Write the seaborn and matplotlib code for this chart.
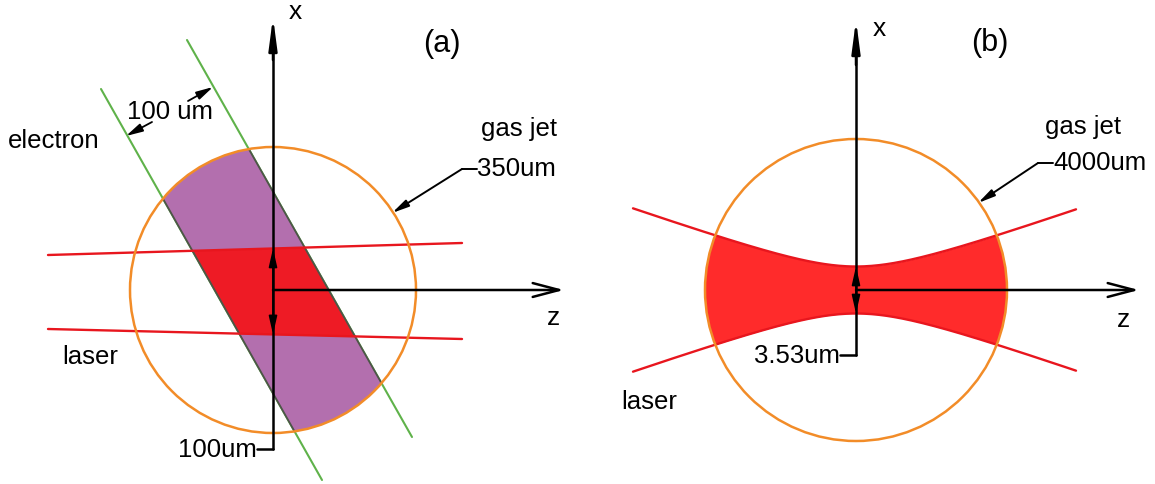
import numpy as np
import matplotlib
matplotlib.use("Agg")
import matplotlib.pyplot as plt
from matplotlib.patches import Circle, Polygon
import seaborn as sns

# ---------------- panel (a): electron beam crossing a laser slab ----------------
a_center = (273, 290)
a_jet_radius = 143
electron_left_x = [101, 322]
electron_left_y = [89, 480]
electron_right_x = [187, 412]
electron_right_y = [40, 437]
laser_a_x = [48, 462]
laser_a_top_y = [255, 243]
laser_a_bottom_y = [329, 339]

# ---------------- panel (b): focused laser through a wide gas jet ----------------
b_center = (856, 290)
b_jet_radius = 151
beam_z_ends = [633, 1076]
beam_waist_half = 23.5      # half width of the focus, drawing units
beam_rayleigh = 67          # Rayleigh length, drawing units

# label texts
panel_tags = ["(a)", "(b)"]
jet_sizes = ["350um", "4000um"]
waist_labels = ["100um", "3.53um"]
electron_width_label = "100 um"

GREEN = "#5fb24a"
ORANGE = "#f28c28"
RED_LINE = "#e8161e"
RED_FILL_A = "#ee1b25"
RED_FILL_B = "#ff2b2b"
PURPLE = "#b36fae"
EDGE = "#4d5548"

sns.set_theme(style="white")
plt.rcParams["font.family"] = ["Liberation Sans", "DejaVu Sans"]
plt.rcParams["text.color"] = "black"

fig = plt.figure(figsize=(11.55, 4.84), dpi=100)
ax = fig.add_axes([0, 0, 1, 1])
ax.set_xlim(0, 1155)
ax.set_ylim(484, 0)
ax.axis("off")


def seg(xs, ys, color, lw, z=2):
    sns.lineplot(x=xs, y=ys, ax=ax, color=color, linewidth=lw, sort=False,
                 estimator=None, legend=False, zorder=z)


def arrow(p_from, p_to, style, lw=1.8, z=6):
    ax.annotate("", xy=p_to, xytext=p_from,
                arrowprops=dict(arrowstyle=style, color="black", lw=lw,
                                shrinkA=0, shrinkB=0, mutation_scale=10),
                zorder=z)


# ===================== panel (a) =====================
jet_a = Circle(a_center, a_jet_radius, transform=ax.transData)

# electron beam edges
seg(electron_left_x, electron_left_y, GREEN, 1.5, z=2)
seg(electron_right_x, electron_right_y, GREEN, 1.5, z=2)

band = [(electron_left_x[0], electron_left_y[0]),
        (electron_left_x[1], electron_left_y[1]),
        (electron_right_x[1], electron_right_y[1]),
        (electron_right_x[0], electron_right_y[0])]
purple = Polygon(band, closed=True, facecolor=PURPLE, edgecolor="none", zorder=3)
ax.add_patch(purple)
purple.set_clip_path(jet_a)

# overlap of the electron beam with the laser slab
band_clip = Polygon(band, closed=True, transform=ax.transData)
slab = [(laser_a_x[0], laser_a_top_y[0]), (laser_a_x[1], laser_a_top_y[1]),
        (laser_a_x[1], laser_a_bottom_y[1]), (laser_a_x[0], laser_a_bottom_y[0])]
overlap = Polygon(slab, closed=True, facecolor=RED_FILL_A, edgecolor="none", zorder=4)
ax.add_patch(overlap)
overlap.set_clip_path(band_clip)

# darker beam edges inside the jet
for xs, ys in [(electron_left_x, electron_left_y), (electron_right_x, electron_right_y)]:
    ln, = ax.plot(xs, ys, color=EDGE, lw=1.3, zorder=5)
    ln.set_clip_path(Circle(a_center, a_jet_radius, transform=ax.transData))

# laser slab boundaries
seg(laser_a_x, laser_a_top_y, RED_LINE, 1.7, z=5)
seg(laser_a_x, laser_a_bottom_y, RED_LINE, 1.7, z=5)

# gas jet
ax.add_patch(Circle(a_center, a_jet_radius, fill=False, edgecolor=ORANGE, lw=1.8, zorder=5))

# coordinate axes
ax.plot([a_center[0], a_center[0]], [40, 449], color="black", lw=1.8, zorder=6)
ax.plot([a_center[0], 257], [449, 449], color="black", lw=1.8, zorder=6)
arrow((a_center[0], 60), (a_center[0], 17), "-|>,head_length=1.9,head_width=0.25")
arrow(a_center, (564, a_center[1]), "->,head_length=1.9,head_width=0.5")

# laser slab width marker
ya_top = np.interp(a_center[0], laser_a_x, laser_a_top_y)
ya_bot = np.interp(a_center[0], laser_a_x, laser_a_bottom_y)
arrow(a_center, (a_center[0], ya_top), "-|>,head_length=1.1,head_width=0.25", lw=1.2)
arrow(a_center, (a_center[0], ya_bot), "-|>,head_length=1.1,head_width=0.25", lw=1.2)

# electron beam width marker
arrow((152, 122), (126, 136), "-|>,head_length=1.0,head_width=0.25", lw=1.3)
arrow((188, 101), (213, 87), "-|>,head_length=1.0,head_width=0.25", lw=1.3)

# jet diameter leader
ax.plot([477, 462], [169, 169], color="black", lw=1.4, zorder=6)
arrow((462, 169), (392, 213), "-|>,head_length=1.0,head_width=0.22", lw=1.4)

fs = 18.5
ax.text(8, 141, "electron", fontsize=fs, va="center", ha="left", zorder=7)
ax.text(170, 112, electron_width_label, fontsize=fs, va="center", ha="center", zorder=7)
ax.text(62, 357, "laser", fontsize=fs, va="center", ha="left", zorder=7)
ax.text(481, 129, "gas jet", fontsize=fs, va="center", ha="left", zorder=7)
ax.text(477, 169, jet_sizes[0], fontsize=fs, va="center", ha="left", zorder=7)
ax.text(257, 450, waist_labels[0], fontsize=fs, va="center", ha="right", zorder=7)
ax.text(289, 12, "x", fontsize=19, va="center", ha="left", zorder=7)
ax.text(553, 318, "z", fontsize=19, va="center", ha="center", zorder=7)
ax.text(442, 44, panel_tags[0], fontsize=22, va="center", ha="center", zorder=7)

# ===================== panel (b) =====================
jet_b = Circle(b_center, b_jet_radius, transform=ax.transData)

z = np.linspace(beam_z_ends[0], beam_z_ends[1], 300)
half = beam_waist_half * np.sqrt(1 + ((z - b_center[0]) / beam_rayleigh) ** 2)
upper = b_center[1] - half
lower = b_center[1] + half

beam = ax.fill_between(z, upper, lower, color=RED_FILL_B, lw=0, zorder=3)
beam.set_clip_path(jet_b)
seg(z, upper, RED_LINE, 1.7, z=5)
seg(z, lower, RED_LINE, 1.7, z=5)

ax.add_patch(Circle(b_center, b_jet_radius, fill=False, edgecolor=ORANGE, lw=1.8, zorder=5))

ax.plot([b_center[0], b_center[0]], [45, 355], color="black", lw=1.8, zorder=6)
ax.plot([b_center[0], 840], [355, 355], color="black", lw=1.8, zorder=6)
arrow((b_center[0], 65), (b_center[0], 20), "-|>,head_length=1.9,head_width=0.25")
arrow(b_center, (1139, b_center[1]), "->,head_length=1.9,head_width=0.5")

arrow(b_center, (b_center[0], b_center[1] - beam_waist_half), "-|>,head_length=1.1,head_width=0.25", lw=1.2)
arrow(b_center, (b_center[0], b_center[1] + beam_waist_half), "-|>,head_length=1.1,head_width=0.25", lw=1.2)

ax.plot([1053, 1038], [163, 163], color="black", lw=1.4, zorder=6)
arrow((1038, 163), (978, 203), "-|>,head_length=1.0,head_width=0.22", lw=1.4)

ax.text(1045, 127, "gas jet", fontsize=fs, va="center", ha="left", zorder=7)
ax.text(1053, 163, jet_sizes[1], fontsize=fs, va="center", ha="left", zorder=7)
ax.text(621, 402, "laser", fontsize=fs, va="center", ha="left", zorder=7)
ax.text(840, 356, waist_labels[1], fontsize=fs, va="center", ha="right", zorder=7)
ax.text(873, 29, "x", fontsize=19, va="center", ha="left", zorder=7)
ax.text(1123, 320, "z", fontsize=19, va="center", ha="center", zorder=7)
ax.text(990, 43, panel_tags[1], fontsize=22, va="center", ha="center", zorder=7)

ax.set_xlim(0, 1155)
ax.set_ylim(484, 0)
fig.savefig("out.png", dpi=100)
